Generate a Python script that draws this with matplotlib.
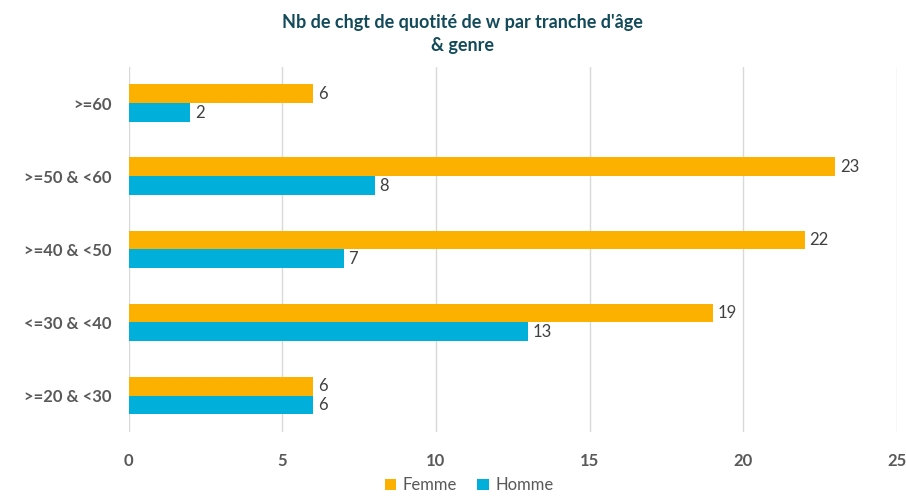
import matplotlib.pyplot as plt
import numpy as np

plt.rcParams['font.family'] = ['Lato', 'DejaVu Sans']

# Tranches d'âge (de haut en bas) et effectifs par genre
tranches = ['>=60', '>=50 & <60', '>=40 & <50', '<=30 & <40', '>=20 & <30']
femme = [6, 23, 22, 19, 6]
homme = [2, 8, 7, 13, 6]
x_ticks = [0, 5, 10, 15, 20, 25]

c_femme = '#FCB000'
c_homme = '#00B0DA'
gris = '#595959'

fig = plt.figure(figsize=(9.06, 4.96), dpi=100)
ax = fig.add_axes([0.142, 0.129, 0.848, 0.736])

y = np.arange(len(tranches))
h = 0.26
ax.barh(y - h / 2, femme, height=h, color=c_femme, label='Femme', zorder=2)
ax.barh(y + h / 2, homme, height=h, color=c_homme, label='Homme', zorder=2)

for yi, v in zip(y, femme):
    ax.text(v + 0.15, yi - h / 2, str(v), va='center', ha='left', fontsize=12, color='#404040')
for yi, v in zip(y, homme):
    ax.text(v + 0.15, yi + h / 2, str(v), va='center', ha='left', fontsize=12, color='#404040')

ax.set_ylim(len(tranches) - 0.5, -0.5)
ax.set_xlim(0, 25)
ax.set_yticks(y)
ax.set_yticklabels(tranches, fontsize=12, fontweight='bold', color=gris)
ax.set_xticks(x_ticks)
ax.set_xticklabels([str(t) for t in x_ticks], fontsize=12, fontweight='bold', color=gris)
ax.tick_params(length=0)
ax.tick_params(axis='x', pad=15)
ax.tick_params(axis='y', pad=12)
ax.grid(axis='x', color='#D9D9D9', linewidth=1, zorder=0)
for s in ax.spines.values():
    s.set_visible(False)

fig.suptitle("Nb de chgt de quotité de w par tranche d'âge\n& genre", x=0.51, y=0.972,
             fontsize=13, fontweight='bold', color='#124A5A', linespacing=1.45)

fig.legend(loc='lower center', bbox_to_anchor=(0.518, -0.025), ncol=2, frameon=False,
           fontsize=12, handlelength=0.7, handleheight=0.7, handletextpad=0.4,
           columnspacing=1.2, labelcolor=gris)

fig.savefig('out.png', dpi=100, facecolor='white')
